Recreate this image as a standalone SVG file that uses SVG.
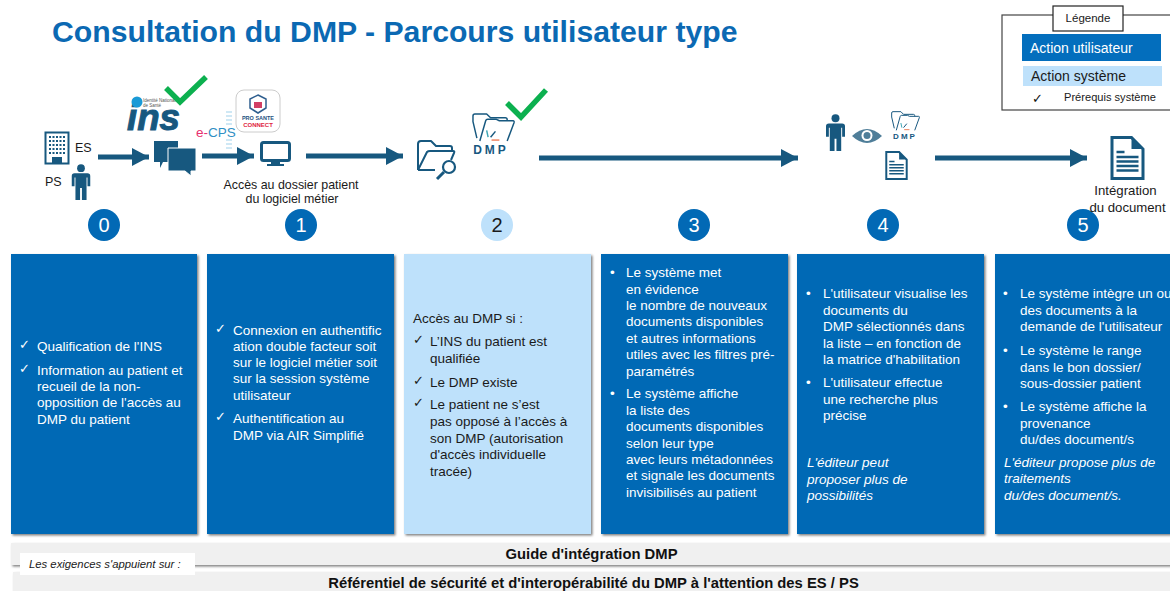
<svg xmlns="http://www.w3.org/2000/svg" width="1170" height="591" viewBox="0 0 1170 591">
<style>
text{font-family:"Liberation Sans",Arial,sans-serif}
.box{fill:#0269b5;filter:url(#sh)}
.lt{fill:#bee1fb;filter:url(#sh)}
.w{fill:#fff;font-size:13.500px}
.k{fill:#1a1a1a;font-size:13.500px}
.d{font-family:"DejaVu Sans",sans-serif;font-size:13px}
.num{fill:#fff;font-size:20px;text-anchor:middle}
.cap{fill:#1a1a1a;font-size:12.400px;text-anchor:middle}
.cap2{fill:#1a1a1a;font-size:13.200px;text-anchor:middle}
.ic{fill:#17587f}
.icl{fill:none;stroke:#17587f;stroke-width:1.500;stroke-linejoin:round}
.chk{fill:none;stroke:#0cb04f;stroke-width:5.500}
.ar{stroke:#17587f;stroke-width:5;fill:none}
.bd{fill:#f0f0f0}
</style>
<defs>
<filter id="sh" x="-5%" y="-5%" width="110%" height="120%"><feDropShadow dx="1.500" dy="1.500" stdDeviation="1.300" flood-color="#000" flood-opacity="0.500"/></filter>
<marker id="ah" markerUnits="userSpaceOnUse" markerWidth="20" markerHeight="20" refX="17" refY="9" orient="auto"><path d="M0 0L17 9L0 18Z" fill="#17587f"/></marker>
<symbol id="person" viewBox="0 0 20 40" overflow="visible"><circle cx="10" cy="4.500" r="4.200" class="ic"/><path class="ic" d="M3 10H17Q20 10 20 13V24H17V14.500H16V39H11V26H9V39H4V14.500H3V24H0V13Q0 10 3 10Z"/></symbol>
<symbol id="doc" viewBox="0 0 34 44" overflow="visible"><path d="M1.500 1.500H21L32.500 13V42.500H1.500Z" fill="#fff" stroke="#17587f" stroke-width="3"/><path d="M21 1.500V13H32.500Z" fill="#17587f"/><path d="M6 16H14M6 21H28M6 25.500H28M6 30H28M6 34.500H28" stroke="#17587f" stroke-width="2.300"/></symbol>
<symbol id="fold" viewBox="0 0 44 30" preserveAspectRatio="none" overflow="visible"><path class="icl" d="M5 26L1 9V3Q1 1 3 1H15L19 5H34Q36 5 36 7V8"/><path class="icl" d="M8 29L14 8Q14.500 6.500 16 6.500H25L28 8H42Q43.500 8 43 10L36 29"/><path d="M15 18L16.500 25" stroke="#3ea6b5" stroke-width="1.500" fill="none"/><path d="M19 25L24 19" stroke="#17587f" stroke-width="1.500" fill="none"/><path d="M20 28H28" stroke="#ef7f5a" stroke-width="1.500" fill="none"/></symbol>
</defs>

<text x="52" y="42" font-size="30.200" font-weight="700" fill="#0b69b3">Consultation du DMP - Parcours utilisateur type</text>

<g id="legende">
<rect x="1002" y="15" width="172" height="95" fill="#fff" stroke="#444" stroke-width="1.200"/>
<rect x="1053" y="6" width="70" height="25" fill="#fff" stroke="#222" stroke-width="1.200"/>
<text x="1088" y="22" font-size="11.500" text-anchor="middle" fill="#1a1a1a">Légende</text>
<rect x="1022" y="34" width="139" height="27" fill="#036ebd"/>
<text x="1030" y="53" font-size="14" fill="#fff">Action utilisateur</text>
<rect x="1023" y="66" width="139" height="20" fill="#bee1fb"/>
<text x="1031" y="81" font-size="14" fill="#1a1a1a">Action système</text>
<text x="1032" y="103" class="d" fill="#111">✓</text>
<text x="1064" y="101" font-size="11.100" fill="#1a1a1a">Prérequis système</text>
</g>

<g id="connecteurs">
<path class="ar" d="M98 157H149" marker-end="url(#ah)"/>
<path class="ar" d="M202 156H254" marker-end="url(#ah)"/>
<path class="ar" d="M306 156H403" marker-end="url(#ah)"/>
<path class="ar" d="M539 158H798" marker-end="url(#ah)"/>
<path class="ar" d="M935 158H1087" marker-end="url(#ah)"/>
</g>

<g id="acteurs">
<rect x="45.500" y="132.500" width="23" height="31" fill="#fff" stroke="#17587f" stroke-width="2"/>
<path d="M49 137H65M49 141H65M49 145H65M49 149H65M49 153H65" stroke="#17587f" stroke-width="2" stroke-dasharray="2 1.500"/>
<rect x="52" y="157" width="10" height="6" fill="#17587f"/>
<text x="75" y="152" font-size="12.500" fill="#1a1a1a">ES</text>
<text x="45" y="186" font-size="12.500" fill="#1a1a1a">PS</text>
<use href="#person" x="71" y="164" width="20" height="37"/>
</g>

<g id="qualification">
<text x="127" y="130" font-size="36" font-weight="700" font-style="italic" fill="#17587f" stroke="#17587f" stroke-width="1" textLength="53" lengthAdjust="spacingAndGlyphs">ins</text>
<circle cx="137" cy="102" r="5.500" fill="#1a9ad6"/>
<text x="143" y="102" font-size="4.500" fill="#555">Identité Nationale</text>
<text x="143" y="106.500" font-size="4.500" fill="#555">de Santé</text>
<path class="chk" d="M166 88L180 102L206 77"/>
<path class="ic" d="M154 141H178V162H163L160 168V162H154Z"/>
<path d="M168 148H196V171H191V176L185 171H168Z" class="ic" stroke="#fff" stroke-width="1"/>
</g>

<g id="connexion">
<path d="M226 112H232M226 116H232M226 120H232M226 124H232M226 140H232M226 144H232M226 148H232" stroke="#cfe8f5" stroke-width="2"/>
<text x="196" y="137" font-size="13.500" fill="#e8306f">e-<tspan fill="#2f8fc4">CPS</tspan></text>
<rect x="236" y="90" width="44" height="42" rx="8" fill="#fff" stroke="#ccc"/>
<path d="M258 95L266 99V108L258 113L250 108V99Z" fill="none" stroke="#2f5f8f" stroke-width="1.500"/>
<rect x="254" y="102" width="8" height="6" fill="#d23f63"/>
<text x="258" y="120" font-size="5.500" font-weight="700" text-anchor="middle" fill="#25527f">PRO SANTE</text>
<text x="258" y="127" font-size="6" font-weight="700" text-anchor="middle" fill="#e0233e">CONNECT</text>
<rect x="261.500" y="142.500" width="28" height="18" rx="2" fill="#fff" stroke="#17587f" stroke-width="3"/>
<path class="ic" d="M271 161H280V164H284V166H267V164H271Z"/>
<text x="291" y="189" class="cap">Accès au dossier patient</text>
<text x="292" y="203" class="cap">du logiciel métier</text>
</g>

<g id="dossier">
<path class="icl" d="M418 170V144Q418 141 421 141H431L436 146H450Q452 146 452 148V151" style="stroke-width:2"/>
<path class="icl" d="M418 170L427 152Q428 151 430 151H453Q455 151 454 153L451 160M418 170H435" style="stroke-width:2"/>
<circle cx="449" cy="167" r="6" fill="#fff" stroke="#17587f" stroke-width="2.200"/>
<path d="M444 172L437 179" stroke="#17587f" stroke-width="3"/>
<use href="#fold" x="472" y="113" width="43" height="29"/>
<text x="491" y="154" font-size="12" font-weight="700" text-anchor="middle" fill="#17587f" letter-spacing="3">DMP</text>
<path class="chk" d="M507 103L521 117L546 90"/>
</g>

<g id="visualisation">
<use href="#person" x="826" y="114" width="19" height="38"/>
<path d="M852 136Q867 122 882 136Q867 150 852 136Z" fill="#4f7e99"/>
<circle cx="867" cy="135.500" r="5.500" fill="#fff"/><circle cx="867" cy="135.500" r="3.500" fill="#4f7e99"/>
<use href="#fold" x="891" y="111" width="29" height="20"/>
<text x="905" y="139" font-size="8" font-weight="700" text-anchor="middle" fill="#17587f" letter-spacing="2">DMP</text>
<use href="#doc" x="885" y="151" width="23" height="29"/>
</g>

<g id="etape-0">
<circle cx="104" cy="225" r="16" fill="#0269b5"/><text x="104" y="232" class="num">0</text>
<rect class="box" x="11" y="254" width="186" height="280"/>
<text class="w d" x="19" y="349">✓</text><text class="w" x="37" y="351">Qualification de l'INS</text>
<text class="w d" x="19" y="373">✓</text><text class="w"><tspan x="37" y="375">Information au patient et</tspan><tspan x="37" y="391">recueil de la non-</tspan><tspan x="37" y="407">opposition de l'accès au</tspan><tspan x="37" y="424">DMP du patient</tspan></text>
</g>

<g id="etape-1">
<circle cx="301" cy="225" r="16" fill="#0269b5"/><text x="301" y="232" class="num">1</text>
<rect class="box" x="207" y="254" width="187" height="280"/>
<text class="w d" x="215" y="333">✓</text><text class="w"><tspan x="233" y="335">Connexion en authentific</tspan><tspan x="233" y="351">ation double facteur soit</tspan><tspan x="233" y="367">sur le logiciel métier soit</tspan><tspan x="233" y="383">sur la session système</tspan><tspan x="233" y="400">utilisateur</tspan></text>
<text class="w d" x="215" y="421">✓</text><text class="w"><tspan x="233" y="423">Authentification au</tspan><tspan x="233" y="440">DMP via AIR Simplifié</tspan></text>
</g>

<g id="etape-2">
<circle cx="497" cy="225" r="16" fill="#bee1fb"/><text x="497" y="232" class="num" style="fill:#1a1a1a">2</text>
<rect class="lt" x="404" y="254" width="187" height="280"/>
<text class="k" x="413" y="323">Accès au DMP si :</text>
<text class="k d" x="413" y="344">✓</text><text class="k"><tspan x="430" y="346">L’INS du patient est</tspan><tspan x="430" y="363">qualifiée</tspan></text>
<text class="k d" x="413" y="385">✓</text><text class="k" x="430" y="387">Le DMP existe</text>
<text class="k d" x="413" y="407">✓</text><text class="k"><tspan x="430" y="409">Le patient ne s’est</tspan><tspan x="430" y="426">pas opposé à l’accès à</tspan><tspan x="430" y="443">son DMP (autorisation</tspan><tspan x="430" y="459">d'accès individuelle</tspan><tspan x="430" y="476">tracée)</tspan></text>
</g>

<g id="etape-3">
<circle cx="694" cy="225" r="16" fill="#0269b5"/><text x="694" y="232" class="num">3</text>
<rect class="box" x="601" y="254" width="187" height="280"/>
<text class="w" x="610" y="277">•</text><text class="w"><tspan x="626" y="277">Le système met</tspan><tspan x="626" y="294">en évidence</tspan><tspan x="626" y="310">le nombre de nouveaux</tspan><tspan x="626" y="326">documents disponibles</tspan><tspan x="626" y="343">et autres informations</tspan><tspan x="626" y="359">utiles avec les filtres pré-</tspan><tspan x="626" y="376">paramétrés</tspan></text>
<text class="w" x="610" y="398">•</text><text class="w"><tspan x="626" y="398">Le système affiche</tspan><tspan x="626" y="415">la liste des</tspan><tspan x="626" y="431">documents disponibles</tspan><tspan x="626" y="448">selon leur type</tspan><tspan x="626" y="464">avec leurs métadonnées</tspan><tspan x="626" y="480">et signale les documents</tspan><tspan x="626" y="497">invisibilisés au patient</tspan></text>
</g>

<g id="etape-4">
<circle cx="883" cy="225" r="16" fill="#0269b5"/><text x="883" y="232" class="num">4</text>
<rect class="box" x="797" y="254" width="187" height="280"/>
<text class="w" x="806" y="298">•</text><text class="w"><tspan x="823" y="298">L'utilisateur visualise les</tspan><tspan x="823" y="315">documents du</tspan><tspan x="823" y="331">DMP sélectionnés dans</tspan><tspan x="823" y="348">la liste – en fonction de</tspan><tspan x="823" y="364">la matrice d'habilitation</tspan></text>
<text class="w" x="806" y="387">•</text><text class="w"><tspan x="823" y="387">L'utilisateur effectue</tspan><tspan x="823" y="404">une recherche plus</tspan><tspan x="823" y="420">précise</tspan></text>
<text class="w" font-style="italic"><tspan x="807" y="467">L'éditeur peut</tspan><tspan x="807" y="484">proposer plus de</tspan><tspan x="807" y="500">possibilités</tspan></text>
</g>

<g id="etape-5">
<circle cx="1083" cy="225" r="16" fill="#0269b5"/><text x="1083" y="232" class="num">5</text>
<rect class="box" x="995" y="254" width="180" height="280"/>
<text class="w" x="1003" y="298">•</text><text class="w"><tspan x="1020" y="298">Le système intègre un ou</tspan><tspan x="1020" y="315">des documents à la</tspan><tspan x="1020" y="331">demande de l'utilisateur</tspan></text>
<text class="w" x="1003" y="355">•</text><text class="w"><tspan x="1020" y="355">Le système le range</tspan><tspan x="1020" y="372">dans le bon dossier/</tspan><tspan x="1020" y="388">sous-dossier patient</tspan></text>
<text class="w" x="1003" y="411">•</text><text class="w"><tspan x="1020" y="411">Le système affiche la</tspan><tspan x="1020" y="428">provenance</tspan><tspan x="1020" y="444">du/des document/s</tspan></text>
<text class="w" font-style="italic"><tspan x="1004" y="467">L'éditeur propose plus de</tspan><tspan x="1004" y="483">traitements</tspan><tspan x="1004" y="500">du/des document/s.</tspan></text>
</g>

<g id="integration">
<use href="#doc" x="1110" y="136" width="35" height="44"/>
<text x="1125.500" y="195" class="cap2">Intégration</text>
<text x="1127.500" y="212" class="cap2">du document</text>
</g>

<g id="exigences">
<rect x="11" y="543" width="1170" height="22" class="bd" filter="url(#sh)"/>
<text x="591.500" y="559" font-size="14.800" font-weight="700" text-anchor="middle" fill="#111">Guide d'intégration DMP</text>
<rect x="13" y="572" width="1170" height="25" class="bd" filter="url(#sh)"/>
<text x="593.500" y="588" font-size="14.800" font-weight="700" text-anchor="middle" fill="#111">Référentiel de sécurité et d'interopérabilité du DMP à l'attention des ES / PS</text>
<rect x="20" y="553" width="175" height="22" fill="#fff"/>
<text x="29" y="568" font-size="11.300" font-style="italic" fill="#1a1a1a">Les exigences s'appuient sur  :</text>
</g>
</svg>
